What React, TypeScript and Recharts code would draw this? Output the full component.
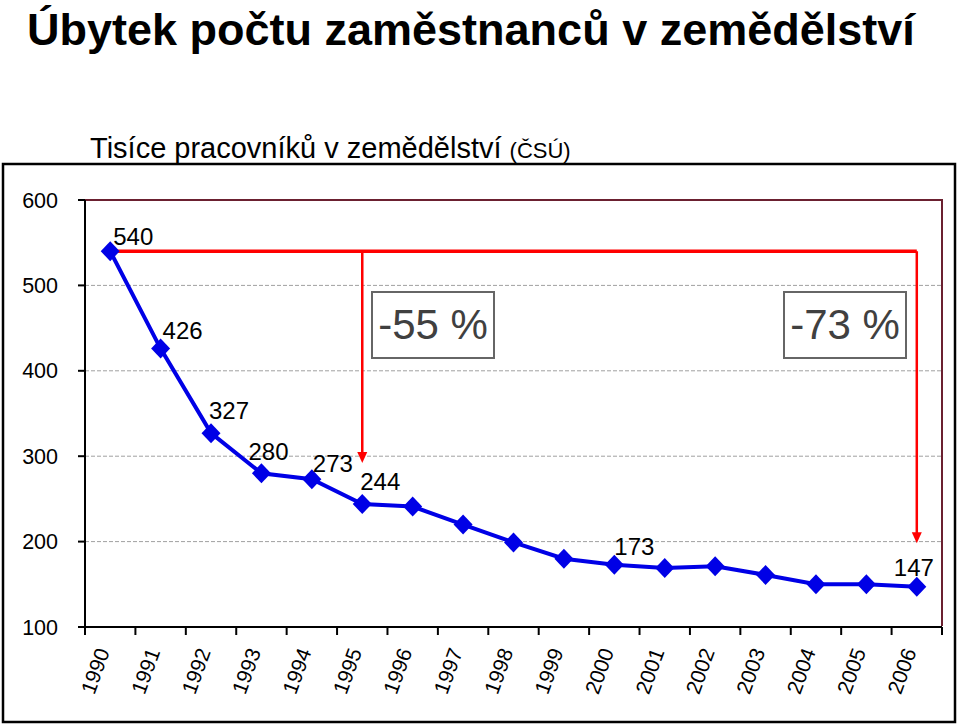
import { LineChart, Line, XAxis, YAxis, CartesianGrid, ReferenceLine, ReferenceDot, LabelList } from "recharts"

const years = ["1990", "1991", "1992", "1993", "1994", "1995", "1996", "1997", "1998", "1999", "2000", "2001", "2002", "2003", "2004", "2005", "2006"]
const workers = [540, 426, 327, 280, 273, 244, 241, 220, 199, 180, 173, 169, 171, 161, 150, 150, 147]
const labeledYears = ["1990", "1991", "1992", "1993", "1994", "1995", "2000", "2006"]
const yTicks = [100, 200, 300, 400, 500, 600]

// red arrows: horizontal from first year, dropping at these years
const arrowYears = ["1995", "2006"]
const arrowEnds = [292, 198]
const changeLabels = ["-55 %", "-73 %"]

const title = "Úbytek počtu zaměstnanců v zemědělství"
const subtitle = "Tisíce pracovníků v zemědělství"
const source = "(ČSÚ)"

const FONT = "'Liberation Sans', Arial, sans-serif"
const BLUE = "#0000e6"
const RED = "#ff0000"
const MAROON = "#6b2030"

const data = years.map((year, i) => ({ year, value: workers[i] }))

// small nudges for the value labels
const labelShift: Record<string, [number, number]> = {
  "1990": [3, -15],
  "1991": [2, -18],
  "1992": [-2, -23],
  "1993": [-13, -22],
  "1994": [1, -16],
  "1995": [-2, -22],
  "2000": [0, -18],
  "2006": [-23, -19],
}

const Diamond = (props: any) => {
  const { cx, cy } = props
  if (cx == null || cy == null) return null
  return <path d={`M${cx},${cy - 10}L${cx + 9.5},${cy}L${cx},${cy + 10}L${cx - 9.5},${cy}Z`} fill={BLUE} />
}

const ValueLabel = (props: any) => {
  const { x, y, value, index } = props
  const year = years[index]
  if (!labeledYears.includes(year)) return null
  const [dx, dy] = labelShift[year] || [0, -18]
  return (
    <text x={x + dx} y={y + dy} dy="0.35em" fontSize={24} fontFamily={FONT} fill="#000" textAnchor="start">
      {value}
    </text>
  )
}

const YearTick = (props: any) => {
  const { x, y, payload, index, width, visibleTicksCount } = props
  const step = (width || 857) / (visibleTicksCount || years.length)
  const last = index === (visibleTicksCount || years.length) - 1
  const tx = x - 7
  const ty = y + 22
  return (
    <g>
      <line x1={x - step / 2} x2={x - step / 2} y1={y} y2={y + 8} stroke="#000" strokeWidth={2} />
      {last && <line x1={x + step / 2} x2={x + step / 2} y1={y} y2={y + 8} stroke="#000" strokeWidth={2} />}
      <text
        x={tx}
        y={ty}
        textAnchor="end"
        dy="0.35em"
        fontSize={21}
        fontFamily={FONT}
        fill="#000"
        transform={`rotate(-70, ${tx}, ${ty})`}
      >
        {payload.value}
      </text>
    </g>
  )
}

const ArrowHead = (props: any) => {
  const { cx, cy } = props
  if (cx == null || cy == null) return null
  return <path d={`M${cx},${cy}L${cx - 5},${cy - 11}L${cx + 5},${cy - 11}Z`} fill={RED} />
}

export default function App() {
  const boxLeft = [371, 783]
  return (
    <div style={{ position: "relative", width: 960, height: 725, background: "#fff", fontFamily: FONT }}>
      <style>{"body { margin: 0; }"}</style>
      <div
        style={{
          position: "absolute",
          left: 27,
          top: 4,
          fontSize: 45,
          fontWeight: "bold",
          whiteSpace: "nowrap",
        }}
      >
        {title}
      </div>
      <div style={{ position: "absolute", left: 90, top: 132, fontSize: 29, whiteSpace: "nowrap" }}>
        {subtitle} <span style={{ fontSize: 22 }}>{source}</span>
      </div>
      <div style={{ position: "absolute", left: 0, top: 0 }}>
        <LineChart width={960} height={725} data={data} margin={{ top: 200, right: 18, bottom: 0, left: 0 }}>
          <CartesianGrid vertical={false} stroke="#a0a0a0" strokeDasharray="4 2" />
          <XAxis
            dataKey="year"
            scale="band"
            interval={0}
            tickLine={false}
            tickSize={0}
            tickMargin={0}
            height={98}
            axisLine={{ stroke: "#000", strokeWidth: 2 }}
            tick={<YearTick />}
          />
          <YAxis
            domain={[100, 600]}
            ticks={yTicks}
            width={85}
            tickSize={7}
            tickMargin={20}
            axisLine={{ stroke: "#000", strokeWidth: 2 }}
            tickLine={{ stroke: "#000", strokeWidth: 2 }}
            tick={{ fontSize: 21.5, fill: "#000", fontFamily: FONT }}
          />
          <ReferenceLine y={600} stroke={MAROON} strokeWidth={2} />
          <ReferenceLine
            segment={[
              { x: years[0], y: workers[0] },
              { x: arrowYears[1], y: workers[0] },
            ]}
            stroke={RED}
            strokeWidth={3.5}
          />
          {arrowYears.map((yr, i) => (
            <ReferenceLine
              key={yr}
              segment={[
                { x: yr, y: workers[0] },
                { x: yr, y: arrowEnds[i] + 10 },
              ]}
              stroke={RED}
              strokeWidth={2.5}
            />
          ))}
          {arrowYears.map((yr, i) => (
            <ReferenceDot key={"h" + yr} x={yr} y={arrowEnds[i]} shape={<ArrowHead />} />
          ))}
          <Line
            dataKey="value"
            stroke={BLUE}
            strokeWidth={4}
            dot={<Diamond />}
            activeDot={false}
            isAnimationActive={false}
          >
            <LabelList dataKey="value" content={<ValueLabel />} />
          </Line>
        </LineChart>
      </div>
      {changeLabels.map((t, i) => (
        <div
          key={t}
          style={{
            position: "absolute",
            left: boxLeft[i],
            top: 291,
            width: 120,
            height: 64,
            border: "2px solid #666",
            background: "#fff",
            color: "#404040",
            fontSize: 42,
            lineHeight: "64px",
            textAlign: "center",
          }}
        >
          {t}
        </div>
      ))}
      <svg width={960} height={725} style={{ position: "absolute", left: 0, top: 0, pointerEvents: "none" }}>
        <polyline points="86,200 942,200 942,626" fill="none" stroke={MAROON} strokeWidth={2} />
        <rect x={3} y={164} width={952} height={558} fill="none" stroke="#000" strokeWidth={2.5} />
      </svg>
    </div>
  )
}
